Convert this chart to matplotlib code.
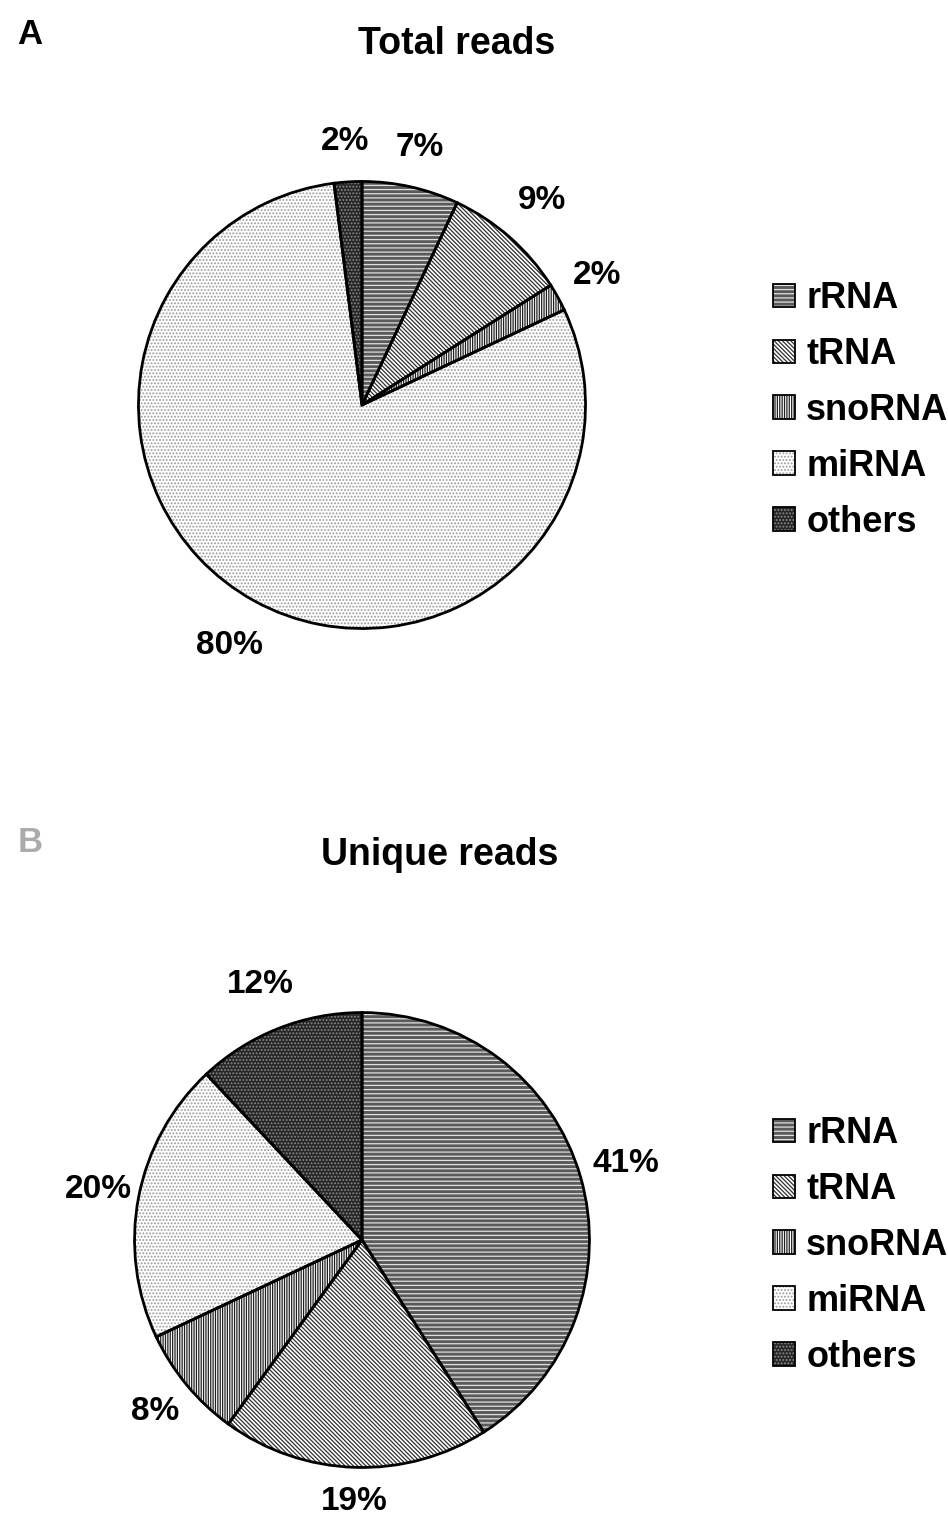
import numpy as np
import matplotlib
matplotlib.use('Agg')
import matplotlib.pyplot as plt
from matplotlib.patches import Wedge, Patch

plt.rcParams['font.family'] = ['Liberation Sans', 'DejaVu Sans']
plt.rcParams['font.weight'] = 'bold'
plt.rcParams['hatch.linewidth'] = 0.9

# data
categories = ['rRNA', 'tRNA', 'snoRNA', 'miRNA', 'others']
total_reads = [7, 9, 2, 80, 2]
unique_reads = [41, 19, 8, 20, 12]

# look of each category: fill, hatch, hatch colour
fills = ['#5a5a5a', 'white', 'white', 'white', '#262626']
hatches = ['----', '\\' * 8, '|' * 7, '.....', '.....']
hatch_cols = ['#e0e0e0', '#303030', '#202020', '#9a9a9a', '#8a8a8a']

# distance of each % label from the centre (in radii)
label_dist_a = [1.18, 1.22, 1.2, 1.23, 1.18]
label_dist_b = [1.21, 1.15, 1.18, 1.18, 1.21]

W, H = 948, 1524
fig = plt.figure(figsize=(W / 100, H / 100), dpi=100)


def draw_panel(values, cx, cy, r, dists, title, title_xy, letter, letter_col, leg_y):
    ax = fig.add_axes([(cx - r) / W, (H - cy - r) / H, 2 * r / W, 2 * r / H])
    wedges, _, autotexts = ax.pie(values, startangle=90, counterclock=False,
                                  colors=fills, autopct=lambda p: '%.0f%%' % p,
                                  pctdistance=1.2,
                                  wedgeprops=dict(linewidth=0),
                                  textprops=dict(fontsize=24, fontweight='bold'))
    for w, h, hc, t, d in zip(wedges, hatches, hatch_cols, autotexts, dists):
        w.set_hatch(h)
        w.set_edgecolor(hc)
        ax.add_patch(Wedge(w.center, w.r, w.theta1, w.theta2, fill=False,
                           edgecolor='black', linewidth=2.0, zorder=3))
        mid = np.deg2rad((w.theta1 + w.theta2) / 2)
        t.set_position((d * np.cos(mid), d * np.sin(mid)))
    ax.set_xlim(-1.02, 1.02)
    ax.set_ylim(-1.02, 1.02)
    ax.axis('off')

    fig.text(title_xy[0] / W, 1 - title_xy[1] / H, title, fontsize=27,
             fontweight='bold', ha='center', va='center')
    fig.text(30 / W, 1 - letter[1] / H, letter[0], fontsize=25,
             fontweight='bold', ha='center', va='center', color=letter_col)

    handles = []
    for f, h, hc in zip(fills, hatches, hatch_cols):
        handles.append((Patch(facecolor=f, hatch=h, edgecolor=hc, linewidth=0),
                        Patch(fill=False, edgecolor='black', linewidth=1.3)))
    fig.legend(handles, categories, loc='upper left',
               bbox_to_anchor=(773 / W, 1 - leg_y / H), frameon=False,
               fontsize=26, handlelength=0.62, handleheight=0.62,
               handletextpad=0.3, labelspacing=0.58, borderpad=0,
               borderaxespad=0)


draw_panel(total_reads, 362, 405, 228, label_dist_a, 'Total reads', (457, 44),
           ('A', 35), 'black', 281)
draw_panel(unique_reads, 362, 1240, 232, label_dist_b, 'Unique reads', (440, 855),
           ('B', 842), '#ababab', 1116)

fig.savefig('out.png', dpi=100)
